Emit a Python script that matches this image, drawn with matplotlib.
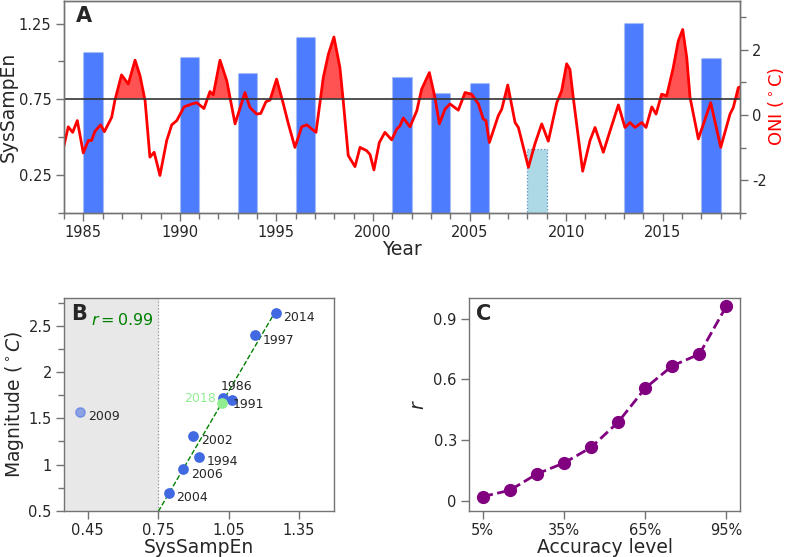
import matplotlib
matplotlib.use("Agg")
import matplotlib.pyplot as plt
import numpy as np
from matplotlib.ticker import FixedLocator, FormatStrFormatter

# Panel A: SysSampEn bars (start year of each bar) and ONI curve
bar_start = [1985, 1990, 1993, 1996, 2001, 2003, 2005, 2008, 2013, 2017]
bar_height = [1.063, 1.028, 0.925, 1.162, 0.90, 0.79, 0.86, 0.42, 1.254, 1.02]
bar_missed = [False, False, False, False, False, False, False, True, False, False]

oni_year = [1984.00, 1984.22, 1984.45, 1984.69, 1985.00, 1985.26, 1985.43, 1985.60,
            1985.90, 1986.09, 1986.47, 1986.64, 1986.98, 1987.33, 1987.68, 1987.94,
            1988.20, 1988.45, 1988.67, 1988.97, 1989.32, 1989.58, 1989.84, 1990.22,
            1990.62, 1990.87, 1991.25, 1991.56, 1991.73, 1992.08, 1992.43, 1992.86,
            1993.37, 1993.63, 1993.98, 1994.19, 1994.46, 1994.67, 1995.01, 1995.36,
            1995.62, 1995.96, 1996.31, 1996.57, 1997.05, 1997.43, 1997.69, 1997.98,
            1998.29, 1998.46, 1998.72, 1999.07, 1999.33, 1999.67, 1999.85, 2000.05,
            2000.33, 2000.62, 2000.97, 2001.23, 2001.40, 2001.57, 2001.92, 2002.27,
            2002.52, 2002.92, 2003.21, 2003.44, 2003.73, 2003.99, 2004.42, 2004.77,
            2005.11, 2005.46, 2005.71, 2005.85, 2006.03, 2006.49, 2006.67, 2006.98,
            2007.36, 2007.53, 2008.05, 2008.39, 2008.74, 2009.08, 2009.52, 2009.77,
            2010.03, 2010.20, 2010.38, 2010.86, 2011.24, 2011.50, 2011.93, 2012.28,
            2012.71, 2013.05, 2013.31, 2013.57, 2013.92, 2014.14, 2014.44, 2014.66,
            2014.95, 2015.21, 2015.55, 2015.81, 2016.04, 2016.25, 2016.42, 2016.85,
            2017.49, 2018.01, 2018.49, 2018.66, 2018.92, 2019.00]
oni_value = [-0.94, -0.36, -0.53, -0.17, -1.16, -0.78, -0.78, -0.50,
             -0.30, -0.51, -0.07, 0.46, 1.23, 0.95, 1.68, 1.20,
             0.44, -1.29, -1.14, -1.85, -0.78, -0.30, -0.17, 0.25,
             0.34, 0.38, 0.20, 0.72, 0.62, 1.68, 1.05, -0.27,
             0.69, 0.23, 0.03, 0.05, 0.41, 0.46, 1.10, 0.34,
             -0.27, -0.99, -0.36, -0.30, -0.53, 1.15, 1.86, 2.39,
             1.45, 0.44, -1.24, -1.58, -0.99, -1.09, -1.21, -1.68,
             -0.84, -0.53, -0.76, -0.43, -0.33, -0.09, -0.36, 0.13,
             0.79, 1.30, 0.54, -0.27, 0.18, 0.34, 0.15, 0.69,
             0.64, 0.34, -0.12, -0.17, -0.84, -0.02, 0.18, 0.92,
             -0.23, -0.38, -1.60, -0.88, -0.27, -0.80, 0.38, 0.74,
             1.57, 1.40, 0.50, -1.72, -0.78, -0.38, -1.14, -0.48,
             0.31, -0.38, -0.23, -0.38, -0.23, -0.38, 0.25, 0.03,
             0.64, 0.59, 1.45, 2.27, 2.62, 1.76, 0.54, -0.73,
             0.38, -0.99, 0.03, 0.23, 0.84, 0.86]

# Panel B: SysSampEn vs El Nino magnitude
b_year = ["2014", "1997", "1986", "1991", "2002", "1994", "2006", "2004"]
b_sse = [1.25, 1.161, 1.024, 1.065, 0.90, 0.924, 0.857, 0.794]
b_mag = [2.644, 2.399, 1.717, 1.699, 1.309, 1.085, 0.948, 0.695]
miss_year, miss_sse, miss_mag = "2009", 0.419, 1.572
pred_year, pred_sse, pred_mag = "2018", 1.020, 1.670

# Panel C: correlation vs accuracy level
acc_level = [5, 15, 25, 35, 45, 55, 65, 75, 85, 95]
acc_r = [0.02, 0.051, 0.132, 0.186, 0.263, 0.388, 0.556, 0.666, 0.724, 0.962]

plt.rcParams["font.family"] = "DejaVu Sans"
plt.rcParams["axes.unicode_minus"] = False
text_c = "0.15"
spine_c = "0.45"
label_fs = 13.5

fig = plt.figure(figsize=(7.85, 5.57), dpi=100)


def style(ax):
    for s in ax.spines.values():
        s.set_color(spine_c)
        s.set_linewidth(1.0)
    ax.tick_params(which="major", length=6, width=1, color=spine_c,
                   labelsize=10.5, labelcolor=text_c, pad=3)
    ax.tick_params(which="minor", length=4, width=1, color=spine_c)


# --- A ---
ax_a = fig.add_axes([0.0815, 0.6176, 0.861, 0.381])
colors = ["lightblue" if m else "#4d7cff" for m in bar_missed]
edges = ["#5f8fc0" if m else "#a8bce8" for m in bar_missed]
ax_a.bar(bar_start, bar_height, width=1.0, align="edge", color=colors,
         edgecolor=edges, linestyle=":", linewidth=0.9)
ax_a.set_xlim(1984, 2019)
ax_a.set_ylim(0, 1.40)
ax_a.xaxis.set_major_locator(FixedLocator(range(1985, 2019, 5)))
ax_a.xaxis.set_minor_locator(FixedLocator(range(1984, 2020)))
ax_a.yaxis.set_major_locator(FixedLocator([0.25, 0.75, 1.25]))
ax_a.yaxis.set_minor_locator(FixedLocator([0.0, 0.5, 1.0]))
ax_a.yaxis.set_major_formatter(FormatStrFormatter("%.2f"))
ax_a.set_xlabel("Year", fontsize=label_fs, color=text_c, labelpad=0)
ax_a.set_ylabel("SysSampEn", fontsize=label_fs, color=text_c, labelpad=0.5)
style(ax_a)
ax_a.text(0.018, 0.975, "A", transform=ax_a.transAxes, fontsize=15,
          fontweight="bold", color=text_c, va="top", ha="left")

ax_o = ax_a.twinx()
oni_x = np.array(oni_year)
oni_y = np.array(oni_value)
ax_o.fill_between(oni_x, oni_y, 0.5, where=oni_y > 0.5, interpolate=True,
                  color="#ff4040", alpha=0.9, linewidth=0)
ax_o.plot(oni_x, oni_y, color="red", linewidth=2)
ax_o.axhline(0.5, color="0.2", linewidth=1.2)
ax_o.set_ylim(-3, 3.5)
ax_o.yaxis.set_major_locator(FixedLocator([-2, 0, 2]))
ax_o.yaxis.set_minor_locator(FixedLocator([-3, -1, 1, 3]))
ax_o.set_ylabel("ONI ($^\\circ$C)", fontsize=13, color="red", labelpad=-1)
style(ax_o)

# --- B ---
ax_b = fig.add_axes([0.0819, 0.0831, 0.344, 0.3814])
ax_b.axvspan(0.35, 0.75, color="0.91", zorder=0)
ax_b.axvline(0.75, color="0.6", linestyle=":", linewidth=0.9, zorder=1)
slope, icpt = np.polyfit(b_sse, b_mag, 1)
fit_x = np.array([0.75, max(b_sse)])
ax_b.plot(fit_x, slope * fit_x + icpt, color="green", linestyle="--",
          linewidth=1.0, zorder=2)
ax_b.scatter(b_sse, b_mag, s=45, color="royalblue", zorder=3)
ax_b.scatter([miss_sse], [miss_mag], s=45, color="royalblue", alpha=0.55, zorder=3)
ax_b.scatter([pred_sse], [pred_mag], s=45, color="lightgreen", zorder=4)

offsets = {"1986": (-1.5, 8.5, "left"), "1991": (0, -3, "left")}
for yr, xv, yv in zip(b_year + [miss_year], b_sse + [miss_sse], b_mag + [miss_mag]):
    dx, dy, ha = offsets.get(yr, (5.4, -3.6, "left"))
    ax_b.annotate(yr, (xv, yv), xytext=(dx, dy), textcoords="offset points",
                  fontsize=9, color=text_c, ha=ha, va="center", zorder=5)
ax_b.annotate(pred_year, (pred_sse, pred_mag), xytext=(-4.3, 3),
              textcoords="offset points", fontsize=9, color="lightgreen",
              ha="right", va="center", zorder=5)
ax_b.text(0.1, 0.9, "$r = 0.99$", transform=ax_b.transAxes, fontsize=11.5,
          color="green", va="center", ha="left")
ax_b.set_xlim(0.35, 1.5)
ax_b.set_ylim(0.5, 2.8)
ax_b.xaxis.set_major_locator(FixedLocator([0.45, 0.75, 1.05, 1.35]))
ax_b.xaxis.set_major_formatter(FormatStrFormatter("%.2f"))
ax_b.yaxis.set_major_locator(FixedLocator([0.5, 1.0, 1.5, 2.0, 2.5]))
ax_b.yaxis.set_minor_locator(FixedLocator([0.75, 1.25, 1.75, 2.25, 2.75]))
ax_b.yaxis.set_major_formatter(FormatStrFormatter("%g"))
ax_b.set_xlabel("SysSampEn", fontsize=label_fs, color=text_c, labelpad=0)
ax_b.set_ylabel("Magnitude ($^\\circ C$)", fontsize=label_fs, color=text_c,
                labelpad=2)
style(ax_b)
ax_b.text(0.025, 0.975, "B", transform=ax_b.transAxes, fontsize=15,
          fontweight="bold", color=text_c, va="top", ha="left")

# --- C ---
ax_c = fig.add_axes([0.5978, 0.0831, 0.3449, 0.3814])
ax_c.plot(acc_level, acc_r, color="purple", linestyle="--", linewidth=2,
          marker="o", markersize=8.5)
ax_c.set_xlim(0, 100)
ax_c.set_ylim(-0.05, 1.0)
ax_c.xaxis.set_major_locator(FixedLocator([5, 35, 65, 95]))
ax_c.set_xticklabels(["5%", "35%", "65%", "95%"])
ax_c.yaxis.set_major_locator(FixedLocator([0, 0.3, 0.6, 0.9]))
ax_c.yaxis.set_major_formatter(FormatStrFormatter("%g"))
ax_c.set_xlabel("Accuracy level", fontsize=label_fs, color=text_c, labelpad=0)
ax_c.set_ylabel("$r$", fontsize=label_fs, color=text_c)
style(ax_c)
ax_c.text(0.025, 0.975, "C", transform=ax_c.transAxes, fontsize=15,
          fontweight="bold", color=text_c, va="top", ha="left")

fig.savefig("out.png", dpi=100)
